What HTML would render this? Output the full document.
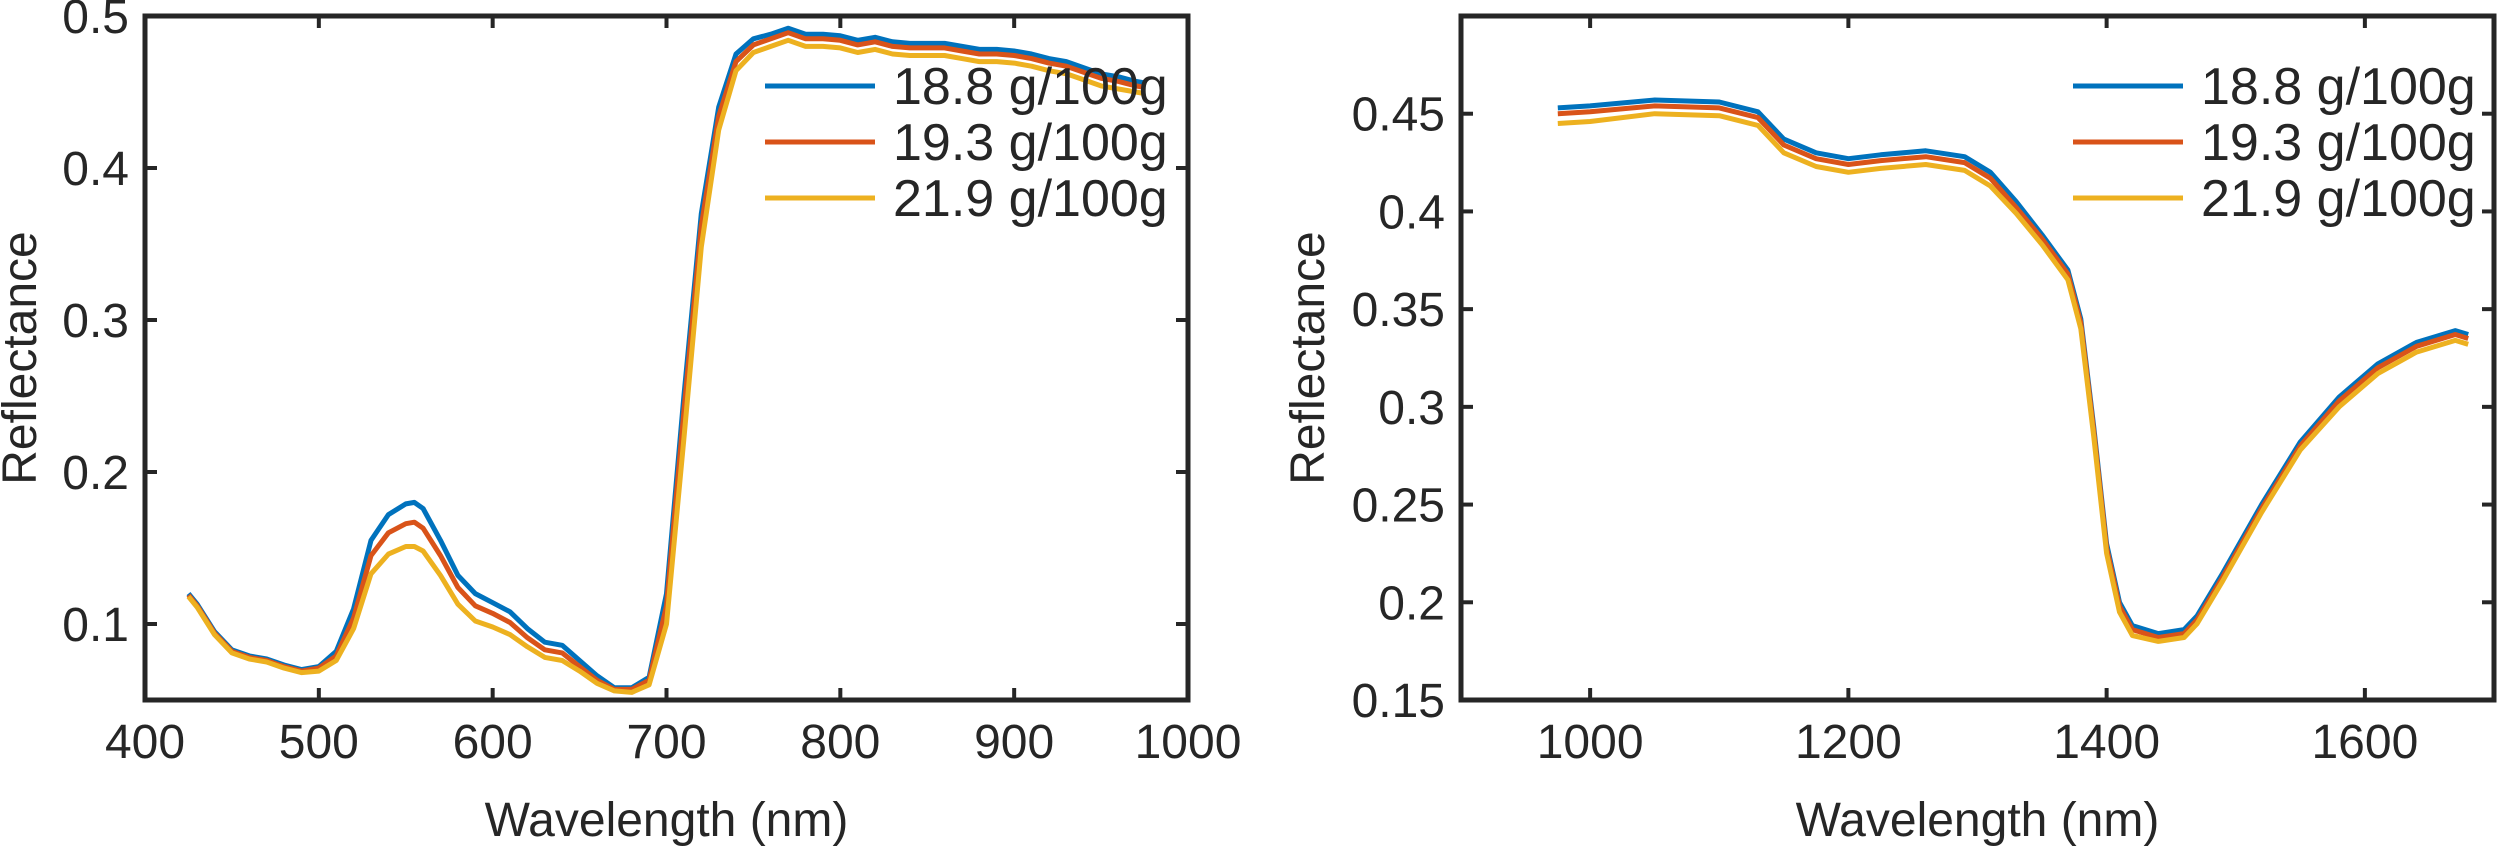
<!DOCTYPE html>
<html><head><meta charset="utf-8"><style>
body{margin:0;background:#fff}
svg text{font-family:"Liberation Sans",Arial,sans-serif;fill:#262626}
</style></head><body>
<svg id="c" width="2500" height="847" xmlns="http://www.w3.org/2000/svg"></svg>
<script>
const seriesNames=["18.8 g/100g","19.3 g/100g","21.9 g/100g"];
const colors=["#0072BD","#D95319","#EDB120"];
const leftX=[425,430,440,450,460,470,480,490,500,510,520,530,540,550,555,560,570,580,590,600,610,620,630,640,650,660,670,680,690,700,710,720,730,740,750,760,770,780,790,800,810,820,830,840,850,860,870,880,890,900,910,920,930,940,950,960,970,975];
const leftA=[.120,.113,.095,.083,.079,.077,.073,.070,.072,.082,.110,.155,.172,.179,.180,.176,.155,.132,.120,.114,.108,.097,.088,.086,.076,.066,.058,.058,.065,.120,.250,.370,.440,.475,.485,.488,.492,.488,.488,.487,.484,.486,.483,.482,.482,.482,.480,.478,.478,.477,.475,.472,.470,.466,.462,.460,.457,.456];
const leftB=[.119,.112,.094,.082,.078,.076,.072,.069,.071,.079,.104,.145,.160,.166,.167,.163,.145,.124,.112,.107,.101,.091,.083,.081,.072,.063,.057,.057,.063,.112,.240,.362,.434,.470,.481,.485,.489,.485,.485,.484,.481,.483,.480,.479,.479,.479,.477,.475,.475,.474,.472,.469,.467,.463,.459,.457,.454,.453];
const leftC=[.118,.111,.093,.081,.077,.075,.071,.068,.069,.076,.097,.133,.146,.151,.151,.148,.132,.113,.102,.098,.093,.085,.078,.076,.069,.061,.056,.055,.060,.100,.222,.348,.425,.464,.476,.480,.484,.480,.480,.479,.476,.478,.475,.474,.474,.474,.472,.470,.470,.469,.467,.464,.462,.458,.454,.452,.450,.449];
const rightX=[975,1000,1050,1100,1130,1150,1175,1200,1225,1260,1290,1310,1330,1350,1370,1380,1390,1400,1410,1420,1440,1460,1470,1490,1520,1550,1580,1610,1640,1670,1680];
const rightA=[.453,.454,.457,.456,.451,.437,.430,.427,.429,.431,.428,.420,.405,.388,.370,.345,.290,.230,.200,.188,.184,.186,.193,.215,.250,.282,.305,.322,.333,.339,.337];
const rightB=[.450,.451,.454,.453,.448,.434,.427,.424,.426,.428,.425,.417,.402,.386,.368,.343,.288,.228,.198,.186,.182,.184,.191,.213,.248,.280,.303,.320,.331,.337,.335];
const rightC=[.445,.446,.450,.449,.444,.430,.423,.420,.422,.424,.421,.413,.399,.383,.365,.340,.285,.225,.195,.183,.180,.182,.189,.211,.246,.278,.300,.317,.328,.334,.332];
const leftXTicks=[400,500,600,700,800,900,1000];
const leftYTicks=[0.1,0.2,0.3,0.4,0.5];
const rightXTicks=[1000,1200,1400,1600];
const rightYTicks=[0.15,0.2,0.25,0.3,0.35,0.4,0.45];
const NS="http://www.w3.org/2000/svg";
const svg=document.getElementById('c');
function mk(t,a,p){const e=document.createElementNS(NS,t);for(const k in a)e.setAttribute(k,a[k]);(p||svg).appendChild(e);return e;}
function panel(o){
  const g=mk('g',{});
  
  
  const sx=v=>o.L+(v-o.x0)/(o.x1-o.x0)*(o.R-o.L);
  const sy=v=>o.B-(v-o.y0)/(o.y1-o.y0)*(o.B-o.T);
  o.series.forEach((ys,i)=>{
    const d=o.xs.map((x,j)=>(j?'L':'M')+sx(x).toFixed(1)+','+sy(ys[j]).toFixed(1)).join('');
    const p=mk('path',{d:d,fill:'none',stroke:colors[i],'stroke-width':5,'stroke-linejoin':'round'},g);
    
    
  });
  const f=mk('rect',{x:o.L,y:o.T,width:o.R-o.L,height:o.B-o.T,fill:'none',stroke:'#262626','stroke-width':5},g);
  
  
  o.xt.forEach(v=>{
    const x=sx(v);
    mk('line',{x1:x,x2:x,y1:o.B,y2:o.B-12,stroke:'#262626','stroke-width':4},g);
    mk('line',{x1:x,x2:x,y1:o.T,y2:o.T+12,stroke:'#262626','stroke-width':4},g);
    const t=mk('text',{x:x,y:o.B+58,'font-size':48,'text-anchor':'middle'},g);
    t.textContent=v;
    
    
  });
  o.yt.forEach(v=>{
    const y=sy(v);
    mk('line',{x1:o.L,x2:o.L+12,y1:y,y2:y,stroke:'#262626','stroke-width':4},g);
    mk('line',{x1:o.R,x2:o.R-12,y1:y,y2:y,stroke:'#262626','stroke-width':4},g);
    const t=mk('text',{x:o.L-16,y:y+17,'font-size':48,'text-anchor':'end'},g);
    t.textContent=String(v);
    
    
  });
  const xl=mk('text',{x:(o.L+o.R)/2,y:836,'font-size':48,'text-anchor':'middle'},g);
  xl.textContent='Wavelength (nm)';
  
  
  const yl=mk('text',{x:0,y:0,'font-size':48,'text-anchor':'middle',transform:'translate('+o.ylx+',358) rotate(-90)'},g);
  yl.textContent='Reflectance';
  
  
  seriesNames.forEach((n,i)=>{
    const y=86+i*56;
    const lg=mk('g',{},g);
    
    
    mk('line',{x1:o.lgx,x2:o.lgx+110,y1:y,y2:y,stroke:colors[i],'stroke-width':5},lg);
    const t=mk('text',{x:o.lgx+128,y:y+18,'font-size':52},lg);
    t.textContent=n;
  });
}
panel({name:'left-chart',L:145,R:1188,T:16,B:700,x0:400,x1:1000,y0:0.05,y1:0.5,xs:leftX,series:[leftA,leftB,leftC],xt:leftXTicks,yt:leftYTicks,ylx:36,lgx:765});
panel({name:'right-chart',L:1461,R:2494,T:16,B:700,x0:900,x1:1700,y0:0.15,y1:0.5,xs:rightX,series:[rightA,rightB,rightC],xt:rightXTicks,yt:rightYTicks,ylx:1324,lgx:2073});
</script>
</body></html>
